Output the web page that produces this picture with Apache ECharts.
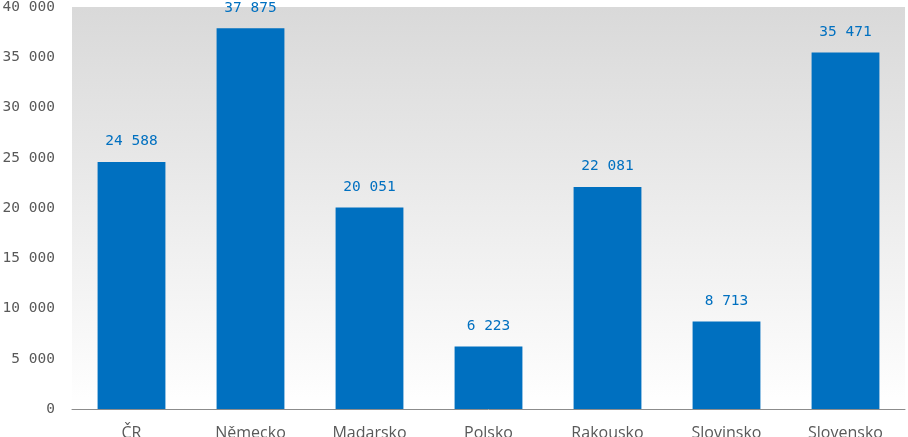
<!DOCTYPE html>
<html>
<head>
<meta charset="utf-8">
<script src="https://cdn.jsdelivr.net/npm/echarts@6/dist/echarts.min.js"></script>
<style>html,body{margin:0;padding:0;background:#fff;}#c{width:908px;height:437px;}</style>
</head>
<body>
<div id="c"></div>
<script>
const categories = ['ČR', 'Německo', 'Madarsko', 'Polsko', 'Rakousko', 'Slovinsko', 'Slovensko'];
const values = [24588, 37875, 20051, 6223, 22081, 8713, 35471];
const yTicks = { min: 0, max: 40000, interval: 5000 };

function fmt(v) {
  return String(Math.round(v)).replace(/\B(?=(\d{3})+(?!\d))/g, ' ');
}

const chart = echarts.init(document.getElementById('c'), null, { renderer: 'canvas' });
chart.setOption({
  animation: false,
  backgroundColor: '#fff',
  grid: {
    left: 72, right: 3, top: 7, bottom: 28,
    containLabel: false,
    outerBoundsMode: 'none',
    show: true, borderWidth: 0,
    backgroundColor: new echarts.graphic.LinearGradient(0, 0, 0, 1, [
      { offset: 0, color: '#D9D9D9' },
      { offset: 1, color: '#FFFFFF' }
    ])
  },
  xAxis: {
    type: 'category',
    data: categories,
    axisLine: { show: true, lineStyle: { color: '#8c8c8c', width: 1 } },
    axisTick: { show: false },
    axisLabel: { color: '#595959', fontFamily: 'Open Sans', fontSize: 16, margin: 16.5 }
  },
  yAxis: {
    type: 'value',
    min: yTicks.min, max: yTicks.max, interval: yTicks.interval,
    splitLine: { show: false },
    axisLine: { show: false },
    axisTick: { show: false },
    axisLabel: { color: '#595959', fontFamily: 'DejaVu Sans Mono', fontSize: 14.5, margin: 17, formatter: fmt }
  },
  series: [{
    type: 'bar',
    data: values,
    barCategoryGap: '43%',
    itemStyle: { color: '#0070C0' },
    label: {
      show: true, position: 'top', distance: 13,
      color: '#0070C0', fontFamily: 'DejaVu Sans Mono', fontSize: 14.5,
      formatter: p => fmt(p.value)
    }
  }]
});
</script>
</body>
</html>
